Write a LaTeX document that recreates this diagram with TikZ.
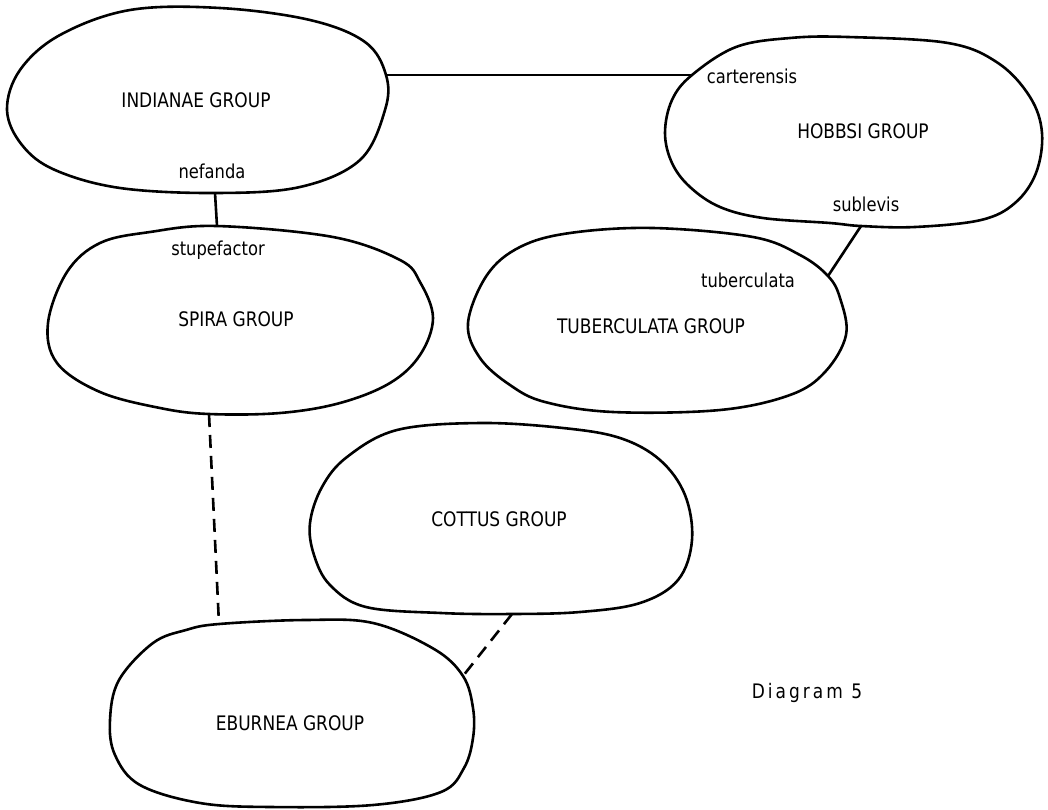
\documentclass[tikz,border=0pt]{standalone}
\usepackage{fontspec}
\setmainfont{DejaVu Sans}[FakeStretch=0.85]
\begin{document}
\begin{tikzpicture}[x=0.5pt,y=-0.5pt,
  blob/.style={line width=1.3pt, line join=round},
  conn/.style={line width=1.3pt},
  dconn/.style={conn, dash pattern=on 6.5pt off 4pt},
  grp/.style={font=\fontsize{10}{12}\selectfont, inner sep=0pt, anchor=base},
  sp/.style={font=\fontsize{9.6}{11}\selectfont, inner sep=0pt, anchor=base}]
\useasboundingbox (0,0) rectangle (1048,809);
% blobs
\draw[blob] plot[smooth cycle, tension=0.6] coordinates {(7,110) (22,145) (55,170) (120,188) (215,193) (300,187) (360,160) (385,110) (386,75) (365,42) (310,20) (220,8) (130,10) (60,35) (20,70)};
\draw[blob] plot[smooth cycle, tension=0.6] coordinates {(48,323) (57,363) (100,392) (160,408) (209,414) (280,413) (340,403) (390,383) (420,355) (433,318) (420,282) (400,260) (333,237) (217,226) (150,232) (100,243) (67,272)};
\draw[blob] plot[smooth cycle, tension=0.6] coordinates {(468,323) (480,358) (510,385) (545,402) (613,412) (720,410) (790,395) (825,372) (846,335) (840,298) (828,276) (800,255) (753,237) (653,228) (570,233) (520,247) (487,275)};
\draw[blob] plot[smooth cycle, tension=0.6] coordinates {(665,133) (672,163) (690,187) (720,207) (763,218) (830,223) (861,226) (915,227) (981,220) (1015,203) (1036,173) (1042,133) (1030,97) (998,63) (948,43) (848,37) (790,38) (736,47) (692,75) (672,100)};
\draw[blob] plot[smooth cycle, tension=0.6] coordinates {(310,523) (314,555) (330,585) (366,607) (441,613) (512,614) (580,612) (640,603) (678,580) (692,540) (685,495) (660,460) (620,438) (563,428) (480,423) (397,430) (347,457) (322,487)};
\draw[blob] plot[smooth cycle, tension=0.6] coordinates {(110,720) (115,755) (140,785) (200,803) (271,807) (373,805) (441,792) (464,768) (473,738) (473,708) (463,676) (434,649) (373,623) (305,620) (219,624) (186,630) (153,643) (119,680)};
% attachment points
\coordinate (ind-e) at (386,75);
\coordinate (ind-s) at (215,193);
\coordinate (spi-n) at (217,226);
\coordinate (spi-s) at (209,414);
\coordinate (hob-w) at (692,75);
\coordinate (hob-s) at (861,226);
\coordinate (tub-ne) at (828,276);
\coordinate (cot-s) at (512,614);
\coordinate (ebu-n) at (219,624);
\coordinate (ebu-ne) at (463,676);
% labels
\node[grp] (indianae) at (196,107) {INDIANAE GROUP};
\node[sp] (nefanda) at (212,178) {nefanda};
\node[sp] (stupefactor) at (218,255) {stupefactor};
\node[grp] (spira) at (236,326) {SPIRA GROUP};
\node[sp] (carterensis) at (752,83) {carterensis};
\node[grp] (hobbsi) at (863,138) {HOBBSI GROUP};
\node[sp] (sublevis) at (866,211) {sublevis};
\node[sp] (tuberculata) at (748,287) {tuberculata};
\node[grp] (tuberc) at (651,333) {TUBERCULATA GROUP};
\node[grp] (cottus) at (499,526) {COTTUS GROUP};
\node[grp] (eburnea) at (290,730) {EBURNEA GROUP};
\node[grp, font=\fontsize{10}{12}\selectfont\addfontfeature{LetterSpace=15}] (diagram) at (807,698) {Diagram 5};
% connectors
\draw[conn] (ind-e) -- (hob-w);
\draw[conn] (ind-s) -- (spi-n);
\draw[conn] (hob-s) -- (tub-ne);
\draw[dconn] (spi-s) -- (ebu-n);
\draw[dconn] (cot-s) -- (ebu-ne);
\end{tikzpicture}
\end{document}
